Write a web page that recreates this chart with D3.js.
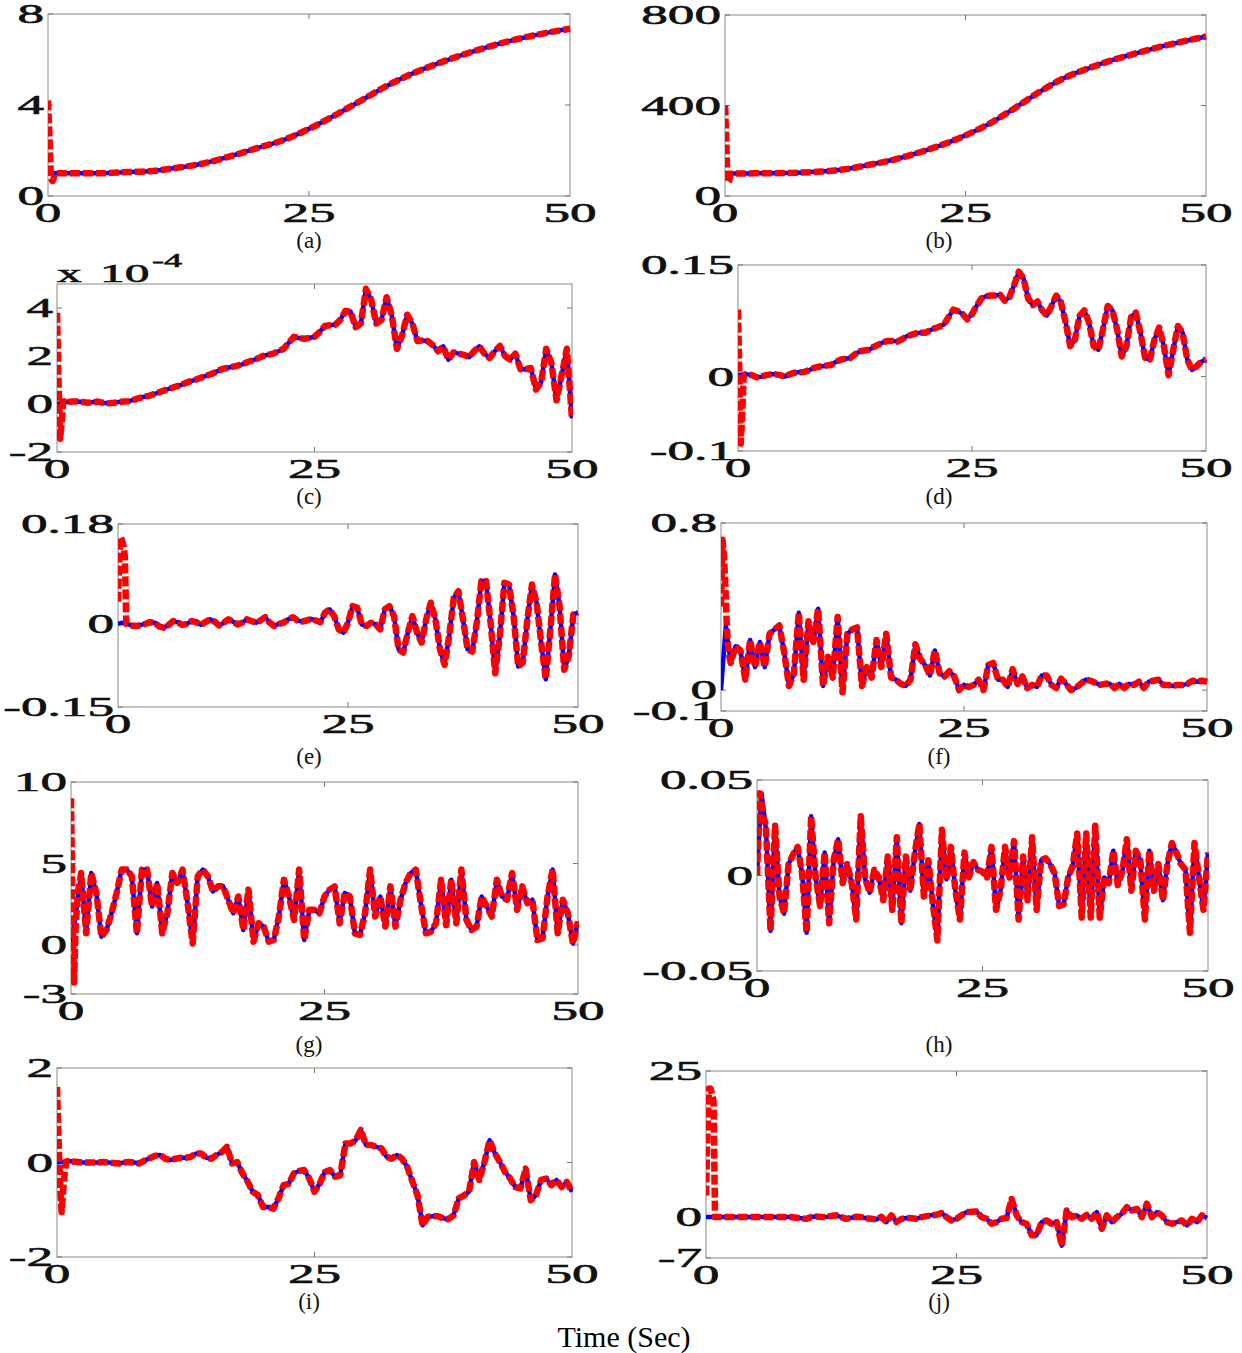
<!DOCTYPE html>
<html>
<head>
<meta charset="utf-8">
<script src="https://cdn.jsdelivr.net/npm/d3@7"></script>
<style>
  body { margin: 0; background: #fff; }
  .tick-label { font-family: "Liberation Serif", "DejaVu Serif", serif; font-size: 28px; fill: #111; stroke: #111; stroke-width: 0.6px; }
  .caption { font-family: "Liberation Serif", "DejaVu Serif", serif; font-size: 23px; fill: #111; }
</style>
</head>
<body>
<div class="chart"></div>
<script>
// sample times (s)
const tGrid = d3.range(0, 50.001, 0.5);
const tSmooth = d3.range(0, 50.001, 2.5);
const tTrans = [0, 0.15, 0.3, 0.45, 0.6, 0.75, 0.9];
const xTicks = [0, 25, 50];

// true states (blue)
const trueA = [1.0, 1.0, 1.0, 1.05, 1.1, 1.25, 1.44, 1.75, 2.1, 2.45, 2.95, 3.55, 4.2, 4.85, 5.4, 5.85, 6.25, 6.6, 6.9, 7.15, 7.35];
const trueB = [100, 100, 101, 103, 108, 118, 138, 160, 190, 225, 268, 320, 385, 455, 516, 560, 597, 628, 657, 682, 705];
const trueC = [0, 0.05, 0.08, 0.1, 0.1, 0.08, 0.05, 0.08, 0.1, 0.05, 0.03, 0.05, 0.08, 0.1, 0.12, 0.18, 0.25, 0.3, 0.35, 0.42,
  0.5, 0.58, 0.65, 0.72, 0.78, 0.88, 0.95, 1.02, 1.1, 1.18, 1.25, 1.35, 1.45, 1.5, 1.55, 1.6, 1.65, 1.75, 1.82, 1.9,
  2.0, 2.05, 2.1, 2.2, 2.3, 2.55, 2.8, 2.75, 2.72, 2.75, 2.8, 3.0, 3.25, 3.28, 3.3, 3.5, 3.88, 3.85, 3.2, 3.35,
  4.8, 4.35, 3.35, 3.5, 4.45, 3.7, 2.3, 2.85, 3.72, 3.35, 2.62, 2.65, 2.62, 2.45, 2.2, 2.4, 1.85, 2.15, 2.1, 2.05,
  1.95, 2.2, 2.4, 2.1, 1.92, 2.2, 2.42, 2.0, 1.85, 2.1, 1.45, 1.45, 1.5, 0.6, 0.9, 2.3, 1.7, 0.15, 1.2, 2.3, -0.6];
const trueD = [0.002, 0.003, 0.003, 0.002, -0.001, 0.0, 0.002, 0.003, 0.003, 0.002, 0.0, 0.003, 0.005, 0.006, 0.006, 0.008, 0.011, 0.013, 0.014, 0.015,
  0.016, 0.02, 0.023, 0.024, 0.025, 0.03, 0.034, 0.035, 0.036, 0.04, 0.043, 0.046, 0.048, 0.048, 0.047, 0.05, 0.054, 0.056, 0.058, 0.059,
  0.059, 0.062, 0.065, 0.067, 0.07, 0.08, 0.09, 0.088, 0.084, 0.077, 0.084, 0.095, 0.105, 0.108, 0.109, 0.109, 0.11, 0.102, 0.107, 0.123,
  0.141, 0.132, 0.105, 0.096, 0.101, 0.089, 0.082, 0.095, 0.109, 0.1, 0.073, 0.041, 0.05, 0.082, 0.089, 0.073, 0.041, 0.036, 0.064, 0.095,
  0.089, 0.064, 0.027, 0.041, 0.08, 0.086, 0.059, 0.025, 0.023, 0.05, 0.066, 0.041, 0.002, 0.036, 0.068, 0.059, 0.023, 0.009, 0.014, 0.02, 0.023];
const trueE = [0.0, 0.002, 0.0, -0.003, -0.004, -0.002, 0.0, 0.003, 0.002, -0.005, -0.007, -0.002, 0.005, 0.003, -0.002, 0.0, 0.005, 0.003, -0.002, 0.003,
  0.008, 0.004, -0.003, 0.002, 0.008, 0.004, -0.001, 0.002, 0.008, 0.005, 0.002, 0.006, 0.012, 0.002, -0.004, 0.0, 0.002, 0.008, 0.012, 0.006,
  0.004, 0.006, 0.009, 0.006, 0.003, 0.02, 0.026, 0.014, -0.01, -0.016, 0.002, 0.032, 0.029, -0.001, -0.004, 0.002, -0.001, -0.01, 0.026, 0.032,
  0.014, -0.046, -0.052, -0.016, 0.014, -0.016, -0.034, 0.008, 0.038, 0.008, -0.046, -0.074, -0.022, 0.047, 0.059, 0.008, -0.046, -0.05, 0.002, 0.077,
  0.077, 0.002, -0.089, -0.022, 0.074, 0.071, 0.014, -0.077, -0.07, 0.008, 0.071, 0.038, -0.034, -0.1, -0.01, 0.089, 0.032, -0.083, -0.058, 0.017, 0.02];
const trueF = [0.0, 0.31, 0.13, 0.21, 0.19, 0.05, 0.24, 0.11, 0.23, 0.11, 0.27, 0.29, 0.31, 0.18, 0.02, 0.08, 0.37, 0.05, 0.33, 0.23,
  0.39, 0.02, 0.16, 0.06, 0.35, -0.01, 0.27, 0.29, 0.3, 0.02, 0.11, 0.06, 0.24, 0.11, 0.27, 0.06, 0.05, 0.03, 0.02, 0.05,
  0.22, 0.15, 0.12, 0.07, 0.19, 0.08, 0.065, 0.09, 0.065, 0.0, 0.025, 0.015, 0.025, 0.05, 0.0, 0.12, 0.13, 0.05, 0.05, 0.015,
  0.1, 0.03, 0.065, 0.01, 0.025, 0.015, 0.07, 0.07, 0.025, 0.01, 0.055, 0.03, 0.0, 0.01, 0.03, 0.05, 0.045, 0.035, 0.025, 0.03,
  0.03, 0.01, 0.03, 0.01, 0.03, 0.025, 0.04, 0.01, 0.04, 0.045, 0.05, 0.025, 0.025, 0.02, 0.025, 0.025, 0.03, 0.045, 0.04, 0.045, 0.04];
const trueG = [0.1, 1.95, 4.42, 0.72, 4.42, 3.19, 0.51, 0.93, 1.95, 3.19, 4.63, 4.63, 4.22, 0.72, 4.63, 4.63, 2.37, 3.81, 0.72, 1.95,
  4.42, 3.81, 4.63, 2.57, 0.1, 4.22, 4.63, 4.22, 3.29, 3.6, 3.6, 2.78, 1.95, 2.98, 0.93, 3.4, 0.21, 1.34, 1.13, 0.21,
  0.31, 1.75, 4.01, 2.98, 1.54, 4.63, 0.31, 2.16, 2.16, 1.95, 2.98, 3.4, 3.6, 1.34, 3.19, 2.98, 0.72, 0.62, 1.95, 4.63,
  1.75, 2.98, 1.13, 3.6, 1.13, 2.78, 3.81, 4.42, 4.63, 2.57, 0.72, 0.82, 1.34, 4.01, 1.23, 4.01, 1.34, 4.63, 1.54, 0.93,
  1.13, 2.98, 2.37, 1.75, 4.01, 2.98, 2.78, 4.42, 2.16, 3.6, 2.57, 2.78, 0.31, 0.41, 2.98, 4.63, 0.72, 2.78, 1.95, 0.1, 1.44];
const trueH = [0.001, 0.043, 0.024, -0.029, 0.026, -0.011, -0.02, 0.006, 0.011, 0.015, 0.001, -0.03, 0.031, -0.001, -0.016, 0.012, -0.025, 0.008, 0.019, -0.004,
  0.006, -0.004, -0.023, 0.031, -0.002, -0.009, 0.003, -0.001, -0.013, 0.01, -0.018, 0.02, -0.025, 0.01, -0.008, 0.012, 0.027, -0.011, 0.008, -0.015,
  -0.034, 0.024, -0.002, 0.015, -0.008, -0.023, 0.012, -0.001, 0.007, 0.003, 0.002, -0.001, 0.015, -0.018, -0.008, 0.015, -0.001, 0.018, -0.023, 0.01,
  -0.013, 0.02, -0.018, 0.008, 0.009, 0.006, 0.001, -0.016, -0.015, -0.001, 0.005, 0.022, -0.022, 0.022, -0.022, 0.026, -0.022, -0.001, -0.004, 0.013,
  -0.005, 0.002, 0.019, -0.008, 0.013, 0.008, -0.023, 0.013, -0.008, 0.006, -0.013, 0.006, 0.017, 0.012, 0.006, 0.003, -0.03, 0.017, -0.001, -0.018, 0.012];
const trueI = [0, 0.01, 0.03, 0.02, 0.01, 0.0, 0.0, 0.0, 0.0, 0.01, 0.0, -0.01, -0.02, 0.0, 0.01, 0.0, -0.02, 0.04, 0.09, 0.14,
  0.16, 0.08, 0.05, 0.08, 0.1, 0.1, 0.12, 0.19, 0.19, 0.1, 0.08, 0.16, 0.22, 0.33, -0.02, 0.01, -0.23, -0.4, -0.62, -0.69,
  -0.94, -0.94, -0.98, -0.76, -0.48, -0.45, -0.23, -0.18, -0.16, -0.34, -0.62, -0.45, -0.2, -0.16, -0.3, -0.27, 0.4, 0.4, 0.47, 0.69,
  0.37, 0.37, 0.33, 0.3, 0.12, 0.08, 0.16, 0.08, -0.09, -0.4, -0.69, -1.33, -1.15, -1.14, -1.14, -1.18, -1.2, -1.12, -0.76, -0.7,
  -0.62, 0.01, -0.37, 0.01, 0.47, 0.2, 0.01, -0.2, -0.34, -0.52, -0.55, -0.13, -0.8, -0.69, -0.37, -0.34, -0.48, -0.37, -0.52, -0.41, -0.62];
const trueJ = [0, 0, 0, 0, 0, 0, 0, 0, 0, 0, 0, 0, 0, 0, 0, 0, 0, 0, -0.1, -0.2,
  -0.3, 0.0, 0.1, 0.0, 0.0, 0.2, 0.3, 0.0, -0.3, -0.1, 0.05, 0.0, -0.2, -0.3, -0.4, 0.05, -0.86, 0.29, -0.86, -0.3,
  -0.17, -0.2, -0.29, 0.0, 0.17, 0.3, 0.4, 0.69, 0.0, -0.57, -0.29, 0.3, 0.86, 0.9, 0.97, 0.0, -0.29, -1.14, -0.86, -0.29,
  -0.17, 3.1, 0.29, -0.86, -1.14, -3.1, -3.1, -0.86, -0.57, -1.14, -0.86, -4.9, 1.14, 0.0, 0.29, -0.29, 0.4, -0.29, 0.86, -2.0,
  0.29, -0.86, 0.0, 0.57, 1.71, 1.14, 1.43, 0.0, 2.29, 0.0, 0.86, 0.29, -0.86, -1.14, -0.86, -0.57, -1.43, -0.29, -0.86, 0.29, -0.17];

// estimator start-up transient (red), at tTrans, before it locks on
const transA = [4.2, 2.5, 0.8, 0.65, 0.9, 1.0, 1.0];
const transB = [400, 220, 60, 70, 95, 100, 100];
const transC = [3.8, 1.0, -1.45, -0.8, 0.1, 0.1, 0.05];
const transD = [0.09, 0.0, -0.09, -0.05, 0.0, 0.003, 0.003];
const transE = [0.04, 0.12, 0.156, 0.15, 0.14, 0.12, 0.0];
const transF = [0.4, 0.72, 0.65, 0.5, 0.3, 0.2, 0.15];
const transG = [9.0, 2.0, -2.3, 1.0, 2.5, 3.5, 4.0];
const transH = [0.0, 0.02, 0.043, 0.04, 0.035, 0.03, 0.028];
const transI = [1.6, 0.5, -0.5, -1.05, -0.6, -0.2, 0.02];
const transJ = [3.7, 15, 22, 22, 21, 20, 0.0];

// y axes
const yDomains = [[0, 8], [0, 800], [-2, 5], [-0.1, 0.15], [-0.15, 0.18], [-0.1, 0.8], [-3, 10], [-0.05, 0.05], [-2, 2], [-7, 25]];
const yTicks = [[0, 4, 8], [0, 400, 800], [-2, 0, 2, 4], [-0.1, 0, 0.15], [-0.15, 0, 0.18], [-0.1, 0, 0.8], [-3, 0, 5, 10], [-0.05, 0, 0.05], [-2, 0, 2], [-7, 0, 25]];
const captions = ["(a)", "(b)", "(c)", "(d)", "(e)", "(f)", "(g)", "(h)", "(i)", "(j)"];

const series = [
  { t: tSmooth, y: trueA, tr: transA }, { t: tSmooth, y: trueB, tr: transB },
  { t: tGrid, y: trueC, tr: transC }, { t: tGrid, y: trueD, tr: transD },
  { t: tGrid, y: trueE, tr: transE }, { t: tGrid, y: trueF, tr: transF },
  { t: tGrid, y: trueG, tr: transG }, { t: tGrid, y: trueH, tr: transH },
  { t: tGrid, y: trueI, tr: transI }, { t: tGrid, y: trueJ, tr: transJ }
];

// plot boxes in page pixels
const boxes = [
  [48, 570, 14, 196], [725, 1206, 15, 196],
  [57, 572, 284, 452], [738, 1206, 265, 451],
  [118, 578, 524, 707], [721, 1207, 523, 711],
  [71, 578, 782, 994], [757, 1208, 780, 971],
  [57, 572, 1068, 1257], [706, 1207, 1071, 1258]
];
const captionX = [309, 939];
const captionY = [248, 504, 764, 1052, 1309];

const width = 1242, height = 1353;
const svg = d3.select(".chart").append("svg")
  .attr("width", width).attr("height", height)
  .attr("viewBox", [0, 0, width, height]);

function wideText(g, x, y, str, anchor, size) {
  const t = g.append("text")
    .attr("class", "tick-label")
    .attr("transform", `translate(${x},${y}) scale(1.9,1)`)
    .attr("text-anchor", anchor)
    .text(str);
  if (size) t.style("font-size", size + "px");
  return t;
}

const fmt = v => (v < 0 ? "-" : "") + String(Math.abs(v));

series.forEach((s, i) => {
  const [x0, x1, y0, y1] = boxes[i];
  const x = d3.scaleLinear().domain([0, 50]).range([x0, x1]);
  const y = d3.scaleLinear().domain(yDomains[i]).range([y1, y0]);
  const g = svg.append("g");

  const clipId = "clip" + i;
  g.append("clipPath").attr("id", clipId)
    .append("rect").attr("x", x0).attr("y", y0 - 2).attr("width", x1 - x0 + 1).attr("height", y1 - y0 + 4);

  // frame
  g.append("rect")
    .attr("x", x0).attr("y", y0).attr("width", x1 - x0).attr("height", y1 - y0)
    .attr("fill", "none").attr("stroke", "#8a8a8a").attr("stroke-width", 1);

  // inward ticks, mirrored
  xTicks.slice(1, -1).forEach(v => {
    g.append("line").attr("x1", x(v)).attr("x2", x(v)).attr("y1", y1).attr("y2", y1 - 5).attr("stroke", "#777");
    g.append("line").attr("x1", x(v)).attr("x2", x(v)).attr("y1", y0).attr("y2", y0 + 5).attr("stroke", "#777");
  });
  yTicks[i].forEach(v => {
    g.append("line").attr("x1", x0).attr("x2", x0 + 5).attr("y1", y(v)).attr("y2", y(v)).attr("stroke", "#777");
    g.append("line").attr("x1", x1).attr("x2", x1 - 5).attr("y1", y(v)).attr("y2", y(v)).attr("stroke", "#777");
  });

  const truth = s.t.map((t, k) => [t, s.y[k]]);
  const est = tTrans.map((t, k) => [t, s.tr[k]]).concat(truth.filter(d => d[0] >= 1));
  const curve = i < 2 ? d3.curveMonotoneX : d3.curveLinear;
  const line = d3.line().x(d => x(d[0])).y(d => y(d[1])).curve(curve);

  const plot = g.append("g").attr("clip-path", `url(#${clipId})`);
  plot.append("path").attr("d", line(truth))
    .attr("fill", "none").attr("stroke", "#0000ff").attr("stroke-width", 4.5)
    .attr("stroke-linejoin", "round");
  plot.append("path").attr("d", line(est))
    .attr("fill", "none").attr("stroke", "#ff0000").attr("stroke-width", 6.5)
    .attr("stroke-dasharray", "10,3").attr("stroke-linejoin", "round");

  // tick labels
  xTicks.forEach(v => wideText(g, x(v), y1 + 26, String(v), "middle"));
  yTicks[i].forEach(v => wideText(g, x0 - 4, y(v) + 9, fmt(v), "end"));

  // caption
  g.append("text").attr("class", "caption")
    .attr("x", captionX[i % 2]).attr("y", captionY[Math.floor(i / 2)])
    .attr("text-anchor", "middle").text(captions[i]);
});

// exponent label of panel (c)
const ex = svg.append("g");
wideText(ex, 57, 282, "x", "start", 26);
wideText(ex, 100, 282, "10", "start", 26);
wideText(ex, 152, 267, "-4", "start", 19);

svg.append("text")
  .attr("x", 624).attr("y", 1347)
  .attr("text-anchor", "middle")
  .style("font-family", "Liberation Serif, serif")
  .style("font-size", "30px")
  .text("Time (Sec)");
</script>
</body>
</html>
